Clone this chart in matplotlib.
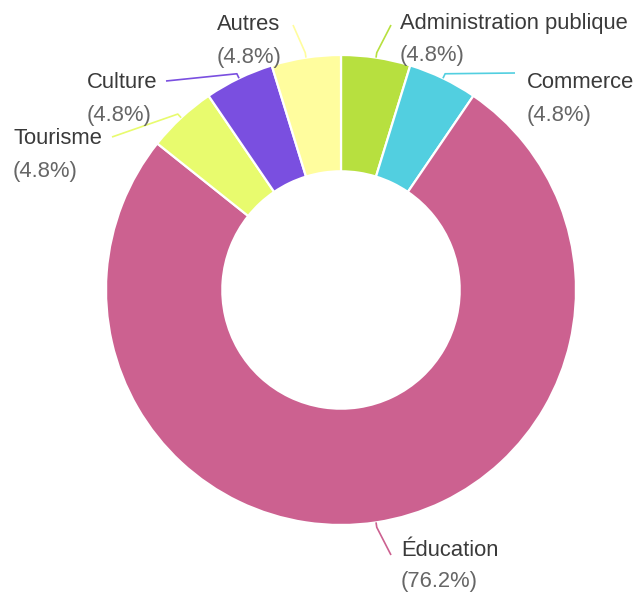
import numpy as np
import matplotlib.pyplot as plt

plt.rcParams['font.family'] = ['Liberation Sans', 'DejaVu Sans']

labels = ['Administration publique', 'Commerce', 'Éducation', 'Tourisme', 'Culture', 'Autres']
values = [1, 1, 16, 1, 1, 1]
colors = ['#b7e03f', '#52cfe0', '#cc6190', '#e8fb6e', '#7a4fe0', '#fffd9e']

W, H = 636, 594
fig = plt.figure(figsize=(W / 100, H / 100), dpi=100)
ax = fig.add_axes([0, 0, 1, 1])

cx, cy = 341, H - 290
R = 235
wedges, _ = ax.pie(values, colors=colors, startangle=90, counterclock=False,
                   radius=R, center=(cx, cy), frame=True,
                   wedgeprops=dict(width=R * 0.495, edgecolor='white', linewidth=1.6))
ax.set_xlim(0, W)
ax.set_ylim(0, H)
ax.set_aspect('equal')
ax.axis('off')

pcts = [v / sum(values) * 100 for v in values]

# label block: (x of text left edge, y of first line in pixels from top)
label_pos = [(400, 24), (527, 83), (401, 550), (13, 139), (87, 83), (217, 25)]
line_end = [(391, 25), (515, 73), (391, 555), (112, 137), (166, 81), (293, 25)]

for w, lab, p, col, (tx, ty), (lx, ly) in zip(wedges, labels, pcts, colors, label_pos, line_end):
    mid = np.deg2rad((w.theta1 + w.theta2) / 2)
    x0 = cx + R * np.cos(mid)
    y0 = cy + R * np.sin(mid)
    x1 = cx + (R + 5) * np.cos(mid)
    y1 = cy + (R + 5) * np.sin(mid)
    ax.plot([x0, x1, lx], [y0, y1, H - ly], color=col, lw=1.2, solid_capstyle='butt')
    ax.text(tx, H - ty, lab, ha='left', va='center', fontsize=15.8, color='#3a3a3a')
    ax.text(tx, H - ty - 32, f'({p:.1f}%)', ha='left', va='center', fontsize=15.8, color='#666666')

fig.savefig('out.png', dpi=100)
